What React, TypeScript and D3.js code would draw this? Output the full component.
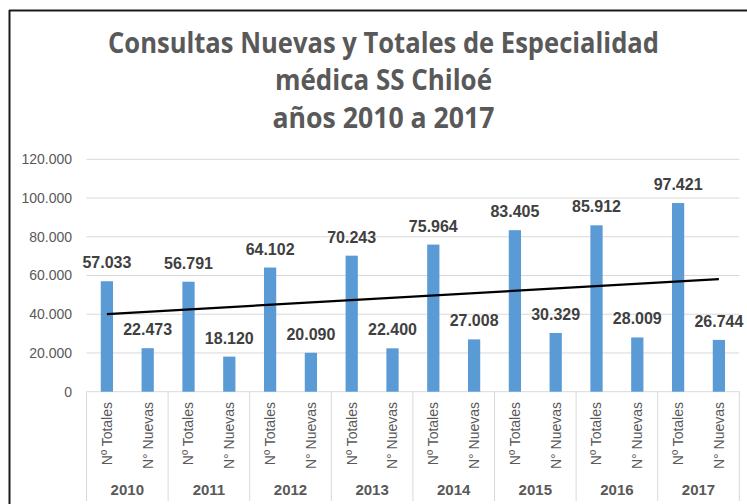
import React from "react";
import * as d3 from "d3";

const years = ["2010", "2011", "2012", "2013", "2014", "2015", "2016", "2017"];
const seriesNames = ["Nº Totales", "N° Nuevas"];
const totales = [57033, 56791, 64102, 70243, 75964, 83405, 85912, 97421];
const nuevas = [22473, 18120, 20090, 22400, 27008, 30329, 28009, 26744];
const yTicks = [0, 20000, 40000, 60000, 80000, 100000, 120000];
const titleLines = [
  "Consultas Nuevas y Totales de Especialidad",
  "médica SS Chiloé",
  "años 2010 a 2017",
];

const W = 747;
const H = 504;
const plotLeft = 86.5;
const plotRight = 739.3;
const plotTop = 159.3;
const plotBottom = 391.7;

const fmt = (v: number) => {
  const s = d3.format(",")(v);
  return s.replace(/,/g, ".");
};

export default function App() {
  const items: { key: string; year: string; name: string; value: number }[] = [];
  years.forEach((y, i) => {
    items.push({ key: y + "-0", year: y, name: seriesNames[0], value: totales[i] });
    items.push({ key: y + "-1", year: y, name: seriesNames[1], value: nuevas[i] });
  });

  const x = d3
    .scaleBand<string>()
    .domain(items.map((d) => d.key))
    .range([plotLeft, plotRight])
    .paddingInner(0.7)
    .paddingOuter(0.35);
  const cx = (k: string) => (x(k) as number) + x.bandwidth() / 2;

  const y = d3.scaleLinear().domain([0, 120000]).range([plotBottom, plotTop]);

  // linear trend line (least squares over category index)
  const vals = items.map((d) => d.value);
  const n = vals.length;
  const xs = d3.range(1, n + 1);
  const mx = d3.mean(xs) as number;
  const my = d3.mean(vals) as number;
  const sxy = d3.sum(xs.map((xi, i) => (xi - mx) * (vals[i] - my)));
  const sxx = d3.sum(xs.map((xi) => (xi - mx) * (xi - mx)));
  const slope = sxy / sxx;
  const intercept = my - slope * mx;
  const trendPts: [number, number][] = [
    [cx(items[0].key), y(intercept + slope * 1)],
    [cx(items[n - 1].key), y(intercept + slope * n)],
  ];
  const line = d3.line();

  const groupW = (plotRight - plotLeft) / years.length;
  const titleWidths = [551, 217, 222];
  const titleBase = [53, 90, 128];

  return (
    <svg
      width={W}
      height={H}
      style={{ position: "absolute", left: 0, top: 0, background: "#fff" }}
      fontFamily="'Liberation Sans', Arial, sans-serif"
    >
      <rect x={0} y={0} width={W} height={H} fill="#fff" />
      {/* border */}
      <line x1={9.5} y1={10} x2={9.5} y2={H} stroke="#1a1a1a" strokeWidth={2} />
      <line x1={9} y1={10.5} x2={W} y2={10.5} stroke="#1a1a1a" strokeWidth={2} />

      {/* title */}
      {titleLines.map((t, i) => (
        <text
          key={i}
          x={383.5}
          y={titleBase[i]}
          textAnchor="middle"
          fontFamily="'Open Sans', sans-serif"
          fontWeight="bold"
          fontSize={28}
          fill="#595959"
          textLength={titleWidths[i]}
          lengthAdjust="spacingAndGlyphs"
        >
          {t}
        </text>
      ))}

      {/* gridlines and y labels */}
      {yTicks.map((t) => (
        <g key={t}>
          {t > 0 && (
            <line x1={plotLeft} x2={plotRight} y1={y(t)} y2={y(t)} stroke="#D9D9D9" strokeWidth={1} />
          )}
          <text x={72} y={y(t)} dy="0.35em" textAnchor="end" fontSize={14} fill="#595959">
            {fmt(t)}
          </text>
        </g>
      ))}

      {/* x axis line */}
      <line x1={plotLeft} x2={plotRight} y1={plotBottom} y2={plotBottom} stroke="#D9D9D9" strokeWidth={1} />
      {/* group separators */}
      {d3.range(years.length + 1).map((i) => (
        <line
          key={i}
          x1={plotLeft + i * groupW}
          x2={plotLeft + i * groupW}
          y1={plotBottom}
          y2={501}
          stroke="#D9D9D9"
          strokeWidth={1}
        />
      ))}

      {/* bars */}
      {items.map((d) => (
        <rect
          key={d.key}
          x={x(d.key)}
          y={y(d.value)}
          width={x.bandwidth()}
          height={plotBottom - y(d.value)}
          fill="#5B9BD5"
        />
      ))}

      {/* trend */}
      <path d={line(trendPts) || ""} stroke="#000" strokeWidth={2.25} fill="none" />

      {/* data labels */}
      {items.map((d) => (
        <text
          key={d.key}
          x={cx(d.key)}
          y={y(d.value) - 13}
          textAnchor="middle"
          fontWeight="bold"
          fontSize={16}
          fill="#404040"
        >
          {fmt(d.value)}
        </text>
      ))}

      {/* category labels rotated */}
      {items.map((d) => (
        <text
          key={d.key}
          transform={`translate(${cx(d.key)},402) rotate(-90)`}
          textAnchor="end"
          dy="0.35em"
          fontSize={14}
          fill="#595959"
        >
          {d.name}
        </text>
      ))}

      {/* year labels */}
      {years.map((yr, i) => (
        <text
          key={yr}
          x={plotLeft + (i + 0.5) * groupW}
          y={495}
          textAnchor="middle"
          fontWeight="bold"
          fontSize={15}
          fill="#595959"
        >
          {yr}
        </text>
      ))}
    </svg>
  );
}
